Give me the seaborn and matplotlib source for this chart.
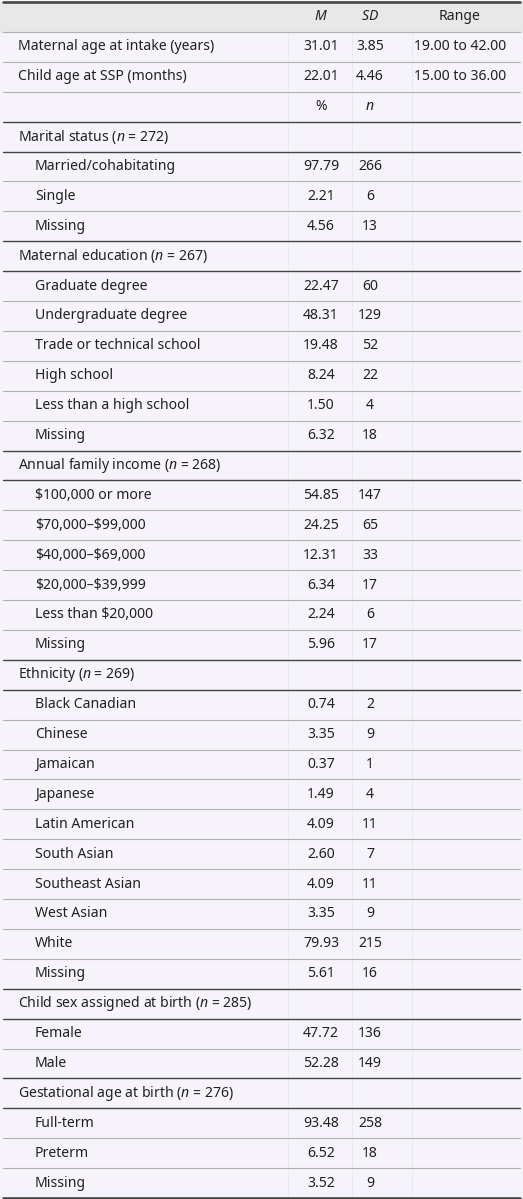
import matplotlib.pyplot as plt
import seaborn as sns

sns.set_style("white")
plt.rcParams["font.family"] = ["Noto Sans", "DejaVu Sans"]
plt.rcParams["mathtext.fontset"] = "custom"
plt.rcParams["mathtext.it"] = "Noto Sans:italic"
plt.rcParams["mathtext.rm"] = "Noto Sans"

# continuous rows
cont_labels = ["Maternal age at intake (years)", "Child age at SSP (months)"]
cont_m = ["31.01", "22.01"]
cont_sd = ["3.85", "4.46"]
cont_range = ["19.00 to 42.00", "15.00 to 36.00"]

# categorical sections: (header, [(label, pct, n), ...])
sections = [
    ("Marital status ($n$ = 272)", [
        ("Married/cohabitating", "97.79", "266"),
        ("Single", "2.21", "6"),
        ("Missing", "4.56", "13")]),
    ("Maternal education ($n$ = 267)", [
        ("Graduate degree", "22.47", "60"),
        ("Undergraduate degree", "48.31", "129"),
        ("Trade or technical school", "19.48", "52"),
        ("High school", "8.24", "22"),
        ("Less than a high school", "1.50", "4"),
        ("Missing", "6.32", "18")]),
    ("Annual family income ($n$ = 268)", [
        (r"\$100,000 or more", "54.85", "147"),
        (r"\$70,000–\$99,000", "24.25", "65"),
        (r"\$40,000–\$69,000", "12.31", "33"),
        (r"\$20,000–\$39,999", "6.34", "17"),
        (r"Less than \$20,000", "2.24", "6"),
        ("Missing", "5.96", "17")]),
    ("Ethnicity ($n$ = 269)", [
        ("Black Canadian", "0.74", "2"),
        ("Chinese", "3.35", "9"),
        ("Jamaican", "0.37", "1"),
        ("Japanese", "1.49", "4"),
        ("Latin American", "4.09", "11"),
        ("South Asian", "2.60", "7"),
        ("Southeast Asian", "4.09", "11"),
        ("West Asian", "3.35", "9"),
        ("White", "79.93", "215"),
        ("Missing", "5.61", "16")]),
    ("Child sex assigned at birth ($n$ = 285)", [
        ("Female", "47.72", "136"),
        ("Male", "52.28", "149")]),
    ("Gestational age at birth ($n$ = 276)", [
        ("Full-term", "93.48", "258"),
        ("Preterm", "6.52", "18"),
        ("Missing", "3.52", "9")]),
]

W, H = 523, 1199
top, rh = 2, 29.9
x_lab, x_ind, x_m, x_sd, x_rng = 18, 35, 321, 370, 460
col_lines = [288, 352, 412]
fs = 10.1

fig = plt.figure(figsize=(W / 100, H / 100), dpi=100)
fig.patch.set_facecolor("#f6f3fa")
ax = fig.add_axes([0, 0, 1, 1])
ax.set_xlim(0, W)
ax.set_ylim(H, 0)
ax.axis("off")

def yc(i):
    return top + (i + 0.5) * rh

def yb(i):
    return top + i * rh

def txt(x, i, s, ha="left", **kw):
    ax.text(x, yc(i), s, ha=ha, va="center", fontsize=fs, color="#222222", **kw)

# header
ax.fill_between([0, W], yb(0), yb(1), color="#e8e8e8", zorder=0)
txt(x_m, 0, "$M$", ha="center")
txt(x_sd, 0, "$SD$", ha="center")
txt(x_rng, 0, "Range", ha="center")

row = 1
for lab, m, sd, rg in zip(cont_labels, cont_m, cont_sd, cont_range):
    txt(x_lab, row, lab)
    txt(x_m, row, m, ha="center")
    txt(x_sd, row, sd, ha="center")
    txt(x_rng, row, rg, ha="center")
    row += 1
txt(x_m, row, "%", ha="center")
txt(x_sd, row, "$n$", ha="center")
row += 1

dark_lines = [yb(0), yb(row)]
light_lines = [yb(1), yb(2), yb(3)]
for header, items in sections:
    txt(x_lab, row, header)
    dark_lines.append(yb(row + 1))
    row += 1
    for lab, pct, n in items:
        txt(x_ind, row, lab)
        txt(x_m, row, pct, ha="center")
        txt(x_sd, row, n, ha="center")
        row += 1
        light_lines.append(yb(row))
    dark_lines.append(yb(row))
light_lines = [y for y in light_lines if y not in dark_lines]

for y in light_lines:
    ax.plot([3, W - 3], [y, y], color="#b0b0b0", lw=0.8, zorder=1)
for y in dark_lines:
    ax.plot([3, W - 3], [y, y], color="#444444", lw=1.0, zorder=2)
ax.plot([3, W - 3], [yb(0), yb(0)], color="#444444", lw=1.8, zorder=2)
ax.plot([3, W - 3], [yb(row), yb(row)], color="#444444", lw=1.8, zorder=2)
for x in col_lines:
    ax.plot([x, x], [yb(1), yb(row)], color="#e6e6e6", lw=0.5, zorder=0)

fig.savefig("out.png", dpi=100, facecolor=fig.get_facecolor())
